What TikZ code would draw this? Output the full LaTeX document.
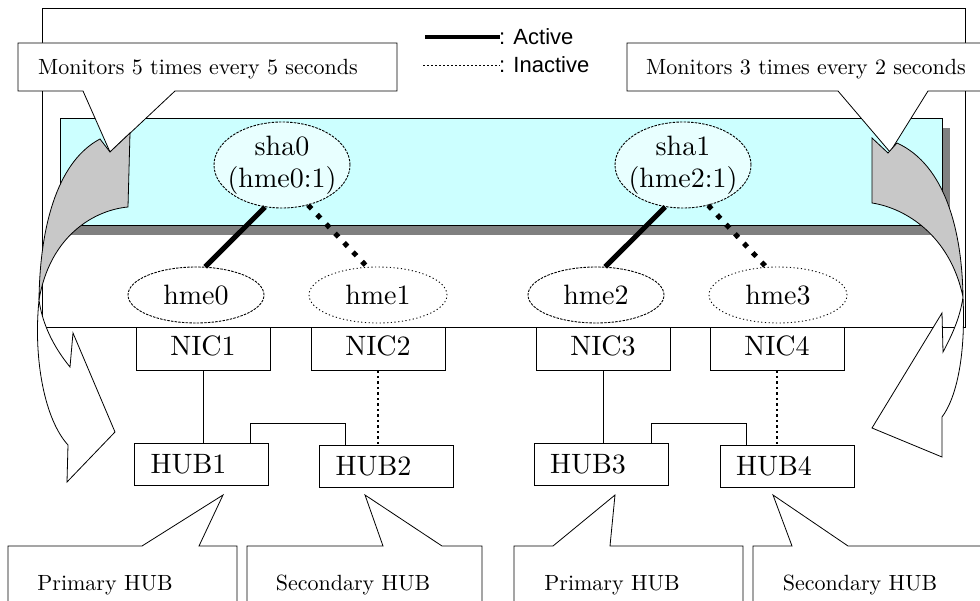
\documentclass[tikz,border=0pt]{standalone}
\usepackage{fontspec}
\usepackage{tikz}
\usetikzlibrary{shapes.geometric}
\newfontfamily\legendfont{Liberation Sans}
\newfontfamily\figfont{lmroman10-regular}[Extension=.otf]
\definecolor{bandcyan}{RGB}{204,255,255}
\definecolor{shacyan}{RGB}{232,255,255}
\definecolor{bandshadow}{RGB}{128,128,128}
\definecolor{bendgray}{RGB}{200,200,200}

\begin{document}
\begin{tikzpicture}[x=1pt,y=-1pt,
    every node/.style={font=\figfont\fontsize{28}{32}\selectfont, inner sep=0pt},
    shanode/.style={ellipse, draw, line width=0.9pt, dash pattern=on 2.5pt off 1.2pt, fill=shacyan, minimum width=136, minimum height=86, inner xsep=-8pt, align=center},
    hmeon/.style={ellipse, draw, line width=0.9pt, dash pattern=on 2.5pt off 1.2pt, fill=white, minimum width=136, minimum height=56},
    hmeoff/.style={ellipse, draw, line width=0.9pt, dash pattern=on 1.2pt off 2.5pt, fill=white, minimum width=138, minimum height=56},
    nicbox/.style={rectangle, draw, line width=0.8pt, fill=white, minimum width=134, minimum height=43, text depth=6pt},
    hubbox/.style={rectangle, draw, line width=0.8pt, fill=white, text width=102, inner xsep=16, align=left, minimum height=42},
    activeline/.style={line width=5pt},
    inactiveline/.style={line width=5pt, dash pattern=on 5pt off 8pt},
    calloutbox/.style={draw, fill=white, line width=0.8pt},
    bendarrow/.style={draw, line width=0.8pt}]
    \useasboundingbox (0,0) rectangle (980,601);

    % server frame and OS layer
    \draw[line width=0.8pt] (42,8) rectangle (965,327);
    \fill[bandshadow] (68,128) rectangle (950,235);
    \filldraw[fill=bandcyan, line width=0.8pt] (60,118) rectangle (942,225);

    % legend
    \draw[line width=3.5pt] (425,37) -- (500,37);
    \node[anchor=west, font=\legendfont\fontsize{22}{24}\selectfont] (legact) at (499,37) {: Active};
    \draw[line width=0.9pt, dash pattern=on 2pt off 2pt] (423,65) -- (500,65);
    \node[anchor=west, font=\legendfont\fontsize{22}{24}\selectfont] (leginact) at (499,65) {: Inactive};

    % callouts
    \path[calloutbox] (18,43) -- (397,43) -- (397,91) -- (175,91) -- (110,152) -- (83,91) -- (18,91) -- cycle;
    \node[font=\figfont\fontsize{22}{24}\selectfont] (mon0) at (198,69) {Monitors 5 times every 5 seconds};
    \path[calloutbox] (627,43) -- (990,43) -- (990,91) -- (928,91) -- (890,152) -- (838,91) -- (627,91) -- cycle;
    \node[font=\figfont\fontsize{22}{24}\selectfont] (mon1) at (806,69) {Monitors 3 times every 2 seconds};

    \path[calloutbox] (8,546) -- (142,546) -- (223,495) -- (199,546) -- (237,546) -- (237,620) -- (8,620) -- cycle;
    \path[calloutbox] (247,546) -- (383,546) -- (365,495) -- (442,546) -- (482,546) -- (482,620) -- (247,620) -- cycle;
    \path[calloutbox] (514,546) -- (553,546) -- (615,495) -- (610,546) -- (743,546) -- (743,620) -- (514,620) -- cycle;
    \path[calloutbox] (753,546) -- (792,546) -- (773,495) -- (848,546) -- (990,546) -- (990,620) -- (753,620) -- cycle;
    \foreach \i/\x/\t in {1/105/Primary HUB,2/353/Secondary HUB,3/612/Primary HUB,4/860/Secondary HUB}
        \node[anchor=base, font=\figfont\fontsize{22}{24}\selectfont] (role\i) at (\x,590) {\t};

    % curved monitoring arrows
    \filldraw[bendarrow, fill=bendgray] (130,133) -- (128,207) .. controls (95,210) and (50,235) .. (39,300)
        .. controls (40,220) and (60,160) .. (100,139) -- (110,152) -- cycle;
    \filldraw[bendarrow, fill=white] (39,300) .. controls (33,360) and (45,420) .. (68,445) -- (67,482) -- (115,432)
        -- (73,333) -- (70,367) .. controls (52,345) and (42,322) .. (39,300) -- cycle;
    \filldraw[bendarrow, fill=bendgray] (872,203) -- (872,138) -- (888,153) -- (897,143) .. controls (945,165) and (962,230) .. (963,297)
        .. controls (950,235) and (905,208) .. (872,203) -- cycle;
    \filldraw[bendarrow, fill=white] (963,297) .. controls (966,360) and (955,400) .. (942,417) -- (942,457) -- (872,428)
        -- (942,313) -- (943,352) .. controls (952,335) and (960,318) .. (963,297) -- cycle;

    % interfaces
    \node[shanode] (sha0) at (282,165) {sha0\\(hme0:1)};
    \node[shanode] (sha1) at (683,165) {sha1\\(hme2:1)};
    \node[hmeon] (hme0) at (196,295) {hme0};
    \node[hmeoff] (hme1) at (378,295) {hme1};
    \node[hmeon] (hme2) at (596,295) {hme2};
    \node[hmeoff] (hme3) at (778,295) {hme3};

    \draw[activeline] (sha0.248) -- (hme0.72);
    \draw[inactiveline] (sha0.303) -- (hme1.111);
    \draw[activeline] (sha1.247) -- (hme2.72);
    \draw[inactiveline] (sha1.302) -- (hme3.113);

    \foreach \i/\x in {1/203,2/378,3/603,4/777}
        \node[nicbox] (nic\i) at (\x,348.5) {NIC\i};
    \foreach \i/\x/\y in {1/201.5/464,2/386.5/466,3/601/464,4/787/466}
        \node[hubbox] (hub\i) at (\x,\y) {HUB\i};

    \draw[line width=0.8pt] (nic1.south) -- (nic1.south |- hub1.north);
    \draw[line width=2.5pt, dash pattern=on 2.5pt off 3pt] (nic2.south) -- (nic2.south |- hub2.north);
    \draw[line width=0.8pt] (nic3.south) -- (nic3.south |- hub3.north);
    \draw[line width=2.5pt, dash pattern=on 2.5pt off 3pt] (nic4.south) -- (nic4.south |- hub4.north);

    \draw[line width=0.8pt] ([xshift=48.5pt]hub1.north) -- ++(0,-19) -| ([xshift=-41.5pt]hub2.north);
    \draw[line width=0.8pt] ([xshift=50pt]hub3.north) -- ++(0,-19) -| ([xshift=-41pt]hub4.north);
\end{tikzpicture}
\end{document}
